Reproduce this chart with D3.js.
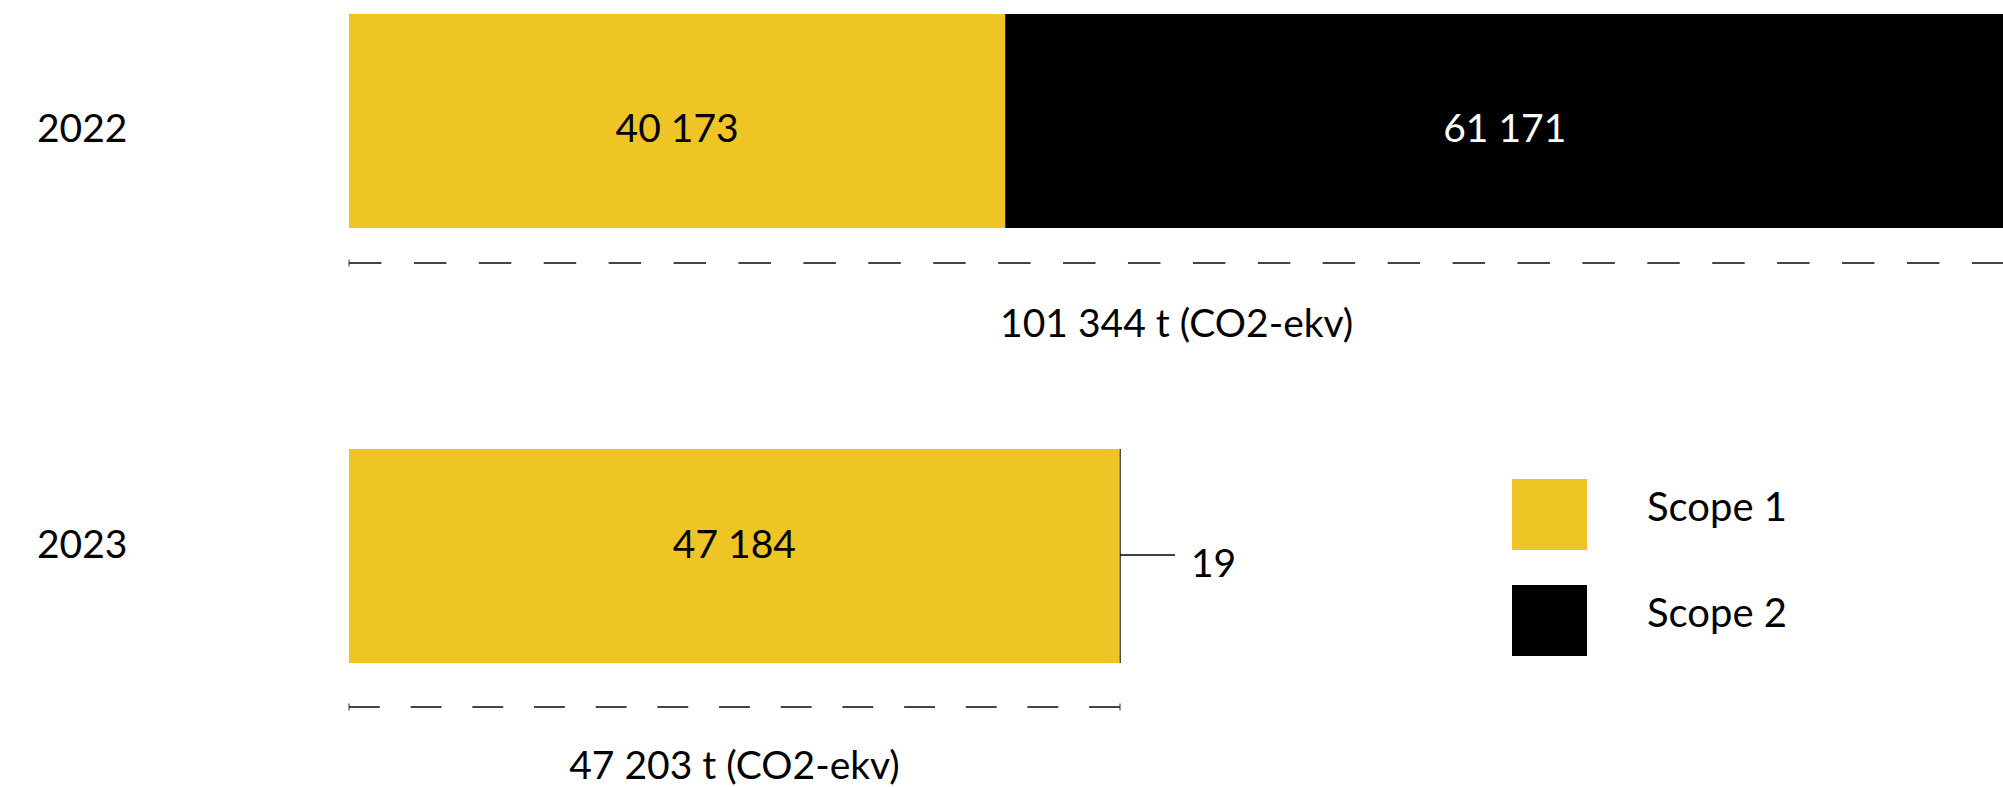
<!DOCTYPE html>
<html>
<head>
<meta charset="utf-8">
<script src="https://cdn.jsdelivr.net/npm/d3@7"></script>
<style>
  html, body { margin: 0; padding: 0; background: #fff; overflow: hidden; }
  svg { display: block; font-family: Lato, "Liberation Sans", sans-serif; }
</style>
</head>
<body>
<svg id="chart" width="2003" height="787"></svg>
<script>
const YEARS = ['2022', '2023'];
const SERIES = ['Scope 1', 'Scope 2'];
const SCOPE1 = [40173, 47184];
const SCOPE2 = [61171, 19];
const TOTALS = ['101 344 t (CO2-ekv)', '47 203 t (CO2-ekv)'];
const COLORS = ['#efc425', '#000000'];

// per-row layout
const rowTop = [14, 449], barH = 214;
const labelBase = [142, 558];
const dashY = [263, 707];
const totalBase = [337, 779];
const fmt = v => d3.format(',')(v).replace(/,/g, ' ');

const svg = d3.select('#chart');
const x = d3.scaleLinear().domain([0, SCOPE1[1] + SCOPE2[1]]).range([349, 1120]);
const color = d3.scaleOrdinal().domain(SERIES).range(COLORS);

const rows = YEARS.map((y, i) => {
  let x0 = 0;
  const segs = [SCOPE1[i], SCOPE2[i]].map((v, k) => {
    const s = { key: SERIES[k], v, x0, x1: x0 + v };
    x0 += v;
    return s;
  });
  return { year: y, i, segs, total: x0 };
});

const g = svg.selectAll('g.row').data(rows).enter().append('g').attr('class', 'row');

// year labels
g.append('text')
  .attr('x', 37)
  .attr('y', d => labelBase[d.i])
  .attr('font-size', 39)
  .text(d => d.year);

// stacked bars
g.selectAll('rect')
  .data(d => d.segs.map(s => ({ ...s, i: d.i })))
  .enter()
  .append('rect')
  .attr('x', s => x(s.x0))
  .attr('y', s => rowTop[s.i])
  .attr('width', s => Math.max(1, x(s.x1) - x(s.x0)))
  .attr('height', barH)
  .attr('fill', s => color(s.key));

g.each(function (d) {
  const row = d3.select(this);
  // value labels inside wide segments, leader line for tiny ones
  d.segs.forEach((s, k) => {
    const w = x(s.x1) - x(s.x0);
    if (w > 120) {
      row.append('text')
        .attr('x', (x(s.x0) + x(s.x1)) / 2)
        .attr('y', labelBase[d.i])
        .attr('text-anchor', 'middle')
        .attr('font-size', 39)
        .attr('fill', k === 1 ? '#fff' : '#000')
        .text(fmt(s.v));
    } else {
      const cy = rowTop[d.i] + barH / 2 - 1;
      row.append('line')
        .attr('x1', x(s.x1)).attr('x2', x(s.x1) + 55)
        .attr('y1', cy).attr('y2', cy)
        .attr('stroke', '#000').attr('stroke-width', 1.5);
      row.append('text')
        .attr('x', x(s.x1) + 71)
        .attr('y', cy + 22)
        .attr('font-size', 39)
        .text(fmt(s.v));
    }
  });

  // dashed total line with end ticks
  const xa = x(0), xb = x(d.total), len = xb - xa;
  const n = Math.round((len / 32 + 1) / 2);
  const dash = len / (2 * n - 1);
  const yy = dashY[d.i];
  row.append('line')
    .attr('x1', xa).attr('x2', xb).attr('y1', yy).attr('y2', yy)
    .attr('stroke', '#444').attr('stroke-width', 2)
    .attr('stroke-dasharray', `${dash},${dash}`);
  [xa, xb].forEach(xt => row.append('line')
    .attr('x1', xt).attr('x2', xt).attr('y1', yy - 3.5).attr('y2', yy + 3.5)
    .attr('stroke', '#333').attr('stroke-width', 1));

  row.append('text')
    .attr('x', (xa + xb) / 2)
    .attr('y', totalBase[d.i])
    .attr('text-anchor', 'middle')
    .attr('font-size', 39)
    .text(TOTALS[d.i]);
});

// legend
const lg = svg.append('g').attr('transform', 'translate(1512,479)');
const li = lg.selectAll('g').data(SERIES).enter().append('g')
  .attr('transform', (d, i) => `translate(0,${i * 106})`);
li.append('rect').attr('width', 75).attr('height', 71).attr('fill', d => color(d));
li.append('text').attr('x', 135).attr('y', 42).attr('font-size', 40).text(d => d);
</script>
</body>
</html>
